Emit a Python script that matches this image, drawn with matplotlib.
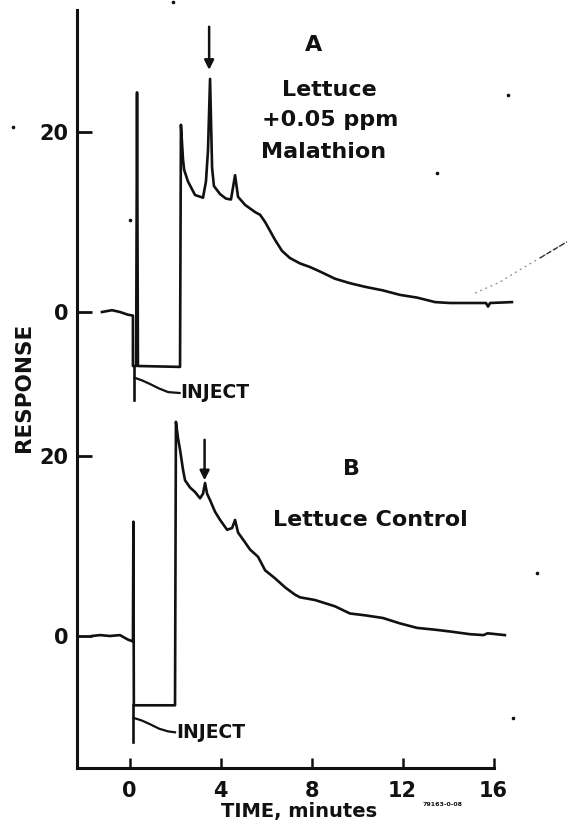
import matplotlib
matplotlib.use("Agg")
import matplotlib.pyplot as plt
import numpy as np

# --- chromatogram A: lettuce fortified with 0.05 ppm malathion (minutes, response) ---
time_a = [-1.21, -0.77, -0.42, -0.07, 0.15, 0.15, 0.29, 0.33, 0.37, 2.22, 2.26, 2.35,
          2.40, 2.57, 2.88, 3.23, 3.36, 3.45, 3.54, 3.63, 3.71, 3.98, 4.24, 4.46, 4.64,
          4.77, 5.08, 5.52, 5.74, 5.96, 6.40, 6.70, 7.05, 7.49, 7.93, 8.37, 9.03, 9.69,
          10.35, 11.14, 11.89, 12.64, 13.43, 14.09, 14.97, 15.67, 15.76, 15.85, 16.81]
resp_a = [0.0, 0.2, 0.0, -0.3, -0.4, -6.0, -6.0, 24.4, -6.0, -6.1, 20.8, 17.0,
          15.8, 14.5, 13.0, 12.7, 14.5, 18.0, 25.9, 16.0, 14.0, 13.1, 12.6, 12.5, 15.2,
          12.8, 11.9, 11.1, 10.8, 10.0, 8.0, 6.8, 6.0, 5.4, 5.0, 4.5, 3.7, 3.2,
          2.8, 2.4, 1.9, 1.6, 1.1, 1.0, 1.0, 1.0, 0.6, 1.0, 1.1]

# --- chromatogram B: lettuce control ---
time_b = [-1.65, -1.30, -0.86, -0.42, -0.07, 0.15, 0.17, 0.19, 2.00, 2.04, 2.13, 2.22,
          2.35, 2.44, 2.66, 2.88, 3.10, 3.23, 3.32, 3.41, 3.54, 3.76, 3.98, 4.29, 4.51,
          4.64, 4.77, 5.08, 5.30, 5.65, 5.96, 6.40, 6.84, 7.27, 7.49, 8.15, 9.03, 9.69,
          10.35, 11.14, 11.89, 12.64, 13.43, 14.09, 14.97, 15.56, 15.74, 16.50]
resp_b = [0.0, 0.1, 0.0, 0.1, -0.4, -0.6, 12.7, -7.7, -7.7, 23.8, 22.0, 20.7,
          18.5, 17.3, 16.5, 16.0, 15.3, 15.8, 17.0, 15.8, 15.1, 13.8, 12.9, 11.8, 12.0,
          12.9, 11.5, 10.4, 9.6, 8.8, 7.3, 6.4, 5.4, 4.6, 4.3, 4.0, 3.3, 2.5,
          2.3, 2.0, 1.4, 0.9, 0.7, 0.5, 0.2, 0.1, 0.3, 0.1]

# vertical offset that stacks trace A above trace B
offset_a = 36.0

x_ticks = [0, 4, 8, 12, 16]
x_tick_labels = ["0", "4", "8", "12", "16"]
y_ticks_each = [0, 20]

# injection markers: (time, top, bottom) and the hook leading to the label
inject_a_marker = (0.20, -6.0, -9.8)
inject_a_hook_t = [0.22, 0.55, 0.90, 1.30, 1.70, 2.20]
inject_a_hook_r = [-7.3, -7.6, -8.0, -8.5, -8.9, -9.0]
inject_b_marker = (0.15, -7.7, -11.8)
inject_b_hook_t = [0.18, 0.55, 0.90, 1.30, 1.70, 2.00]
inject_b_hook_r = [-9.1, -9.4, -9.8, -10.3, -10.6, -10.7]

# malathion arrows: (time, tail, tip)
arrow_a = (3.50, 31.7, 26.9)
arrow_b = (3.30, 21.8, 17.3)

# panel captions: (time, response, text)
captions_a = [(8.10, 29.7, "A"), (8.80, 24.7, "Lettuce"),
              (8.80, 21.3, "+0.05 ppm"), (8.55, 17.8, "Malathion")]
captions_b = [(9.75, 18.6, "B"), (10.6, 12.9, "Lettuce Control")]

# faint pencil stroke in the upper right (minutes, response on trace A's scale)
stroke_t = [15.19, 16.26, 17.16, 18.04, 19.23]
stroke_r = [2.1, 3.3, 4.7, 6.0, 7.8]

W, H = 568, 827
fig = plt.figure(figsize=(W / 100, H / 100), dpi=100)
ax = fig.add_axes([77.2 / W, (H - 768.3) / H, (520.8 - 77.2) / W, (768.3 - 9.6) / H])
ax.set_xlim(-2.3, 17.2)
ax.set_ylim(-14.7, 69.6)

ink = "#111111"
lw = 1.9

ax.plot(time_a, np.array(resp_a) + offset_a, color=ink, lw=lw, solid_joinstyle="round")
ax.plot(time_b, resp_b, color=ink, lw=lw, solid_joinstyle="round")
ax.plot(stroke_t, np.array(stroke_r) + offset_a, color="#8a8a8a", lw=0.9,
        ls=(0, (1.5, 3)), clip_on=False)
ax.plot(stroke_t[-2:], np.array(stroke_r[-2:]) + offset_a, color="#333333", lw=1.0,
        ls=(0, (4, 1.5)), clip_on=False)

for (t, top, bot), ht, hr, off in [
        (inject_a_marker, inject_a_hook_t, inject_a_hook_r, offset_a),
        (inject_b_marker, inject_b_hook_t, inject_b_hook_r, 0.0)]:
    ax.plot([t, t], [top + off, bot + off], color=ink, lw=lw)
    ax.plot(ht, np.array(hr) + off, color=ink, lw=1.6)
    ax.text(ht[-1] + 0.05, hr[-1] + off, "INJECT", ha="left", va="center",
            fontsize=13.5, fontweight="bold", color=ink)

for (t, tail, tip), off in [(arrow_a, offset_a), (arrow_b, 0.0)]:
    ax.annotate("", xy=(t, tip + off), xytext=(t, tail + off),
                arrowprops=dict(arrowstyle="-|>", color=ink, lw=1.8,
                                mutation_scale=14, shrinkA=0, shrinkB=0))

for t, r, s in captions_a:
    ax.text(t, r + offset_a, s, ha="center", va="center", fontsize=16,
            fontweight="bold", color=ink)
for t, r, s in captions_b:
    ax.text(t, r, s, ha="center", va="center", fontsize=16,
            fontweight="bold", color=ink)

# axes styling
for side in ("top", "right"):
    ax.spines[side].set_visible(False)
for side in ("left", "bottom"):
    ax.spines[side].set_linewidth(2.2)
    ax.spines[side].set_color(ink)
ax.spines["bottom"].set_bounds(-2.3, 16)

ax.set_xticks(x_ticks)
ax.set_xticklabels(x_tick_labels, fontweight="bold")
y_positions = [v for v in y_ticks_each] + [v + offset_a for v in y_ticks_each]
ax.set_yticks(y_positions)
ax.set_yticklabels([str(v) for v in y_ticks_each] * 2, fontweight="bold")
ax.tick_params(axis="x", direction="in", length=7, width=1.8, pad=9,
               labelsize=15, colors=ink)
ax.tick_params(axis="y", direction="in", length=11, width=2.0, pad=6,
               labelsize=15, colors=ink)

ax.set_xlabel("TIME, minutes", fontsize=14, fontweight="bold", color=ink, labelpad=2)
ax.xaxis.set_label_coords((299 - 77.2) / (520.8 - 77.2), -0.045)
ax.set_ylabel("RESPONSE", fontsize=15.5, fontweight="bold", color=ink)
ax.yaxis.set_label_coords((34 - 77.2) / (520.8 - 77.2), (768.3 - 387) / (768.3 - 9.6))

fig.text(443 / W, 1 - 805 / H, "79163-0-08", fontsize=4.5, fontweight="bold",
         ha="center", va="center", color=ink)

# small specks of ink scattered on the sheet
speck_x = [437, 508, 13, 130, 537, 513, 173]
speck_y = [173, 95, 127, 220, 573, 718, 2]
fig.add_artist(plt.Line2D([x / W for x in speck_x], [1 - y / H for y in speck_y],
                          ls="none", marker="o", ms=1.6, color=ink))

fig.savefig("out.png", dpi=100, facecolor="white")
